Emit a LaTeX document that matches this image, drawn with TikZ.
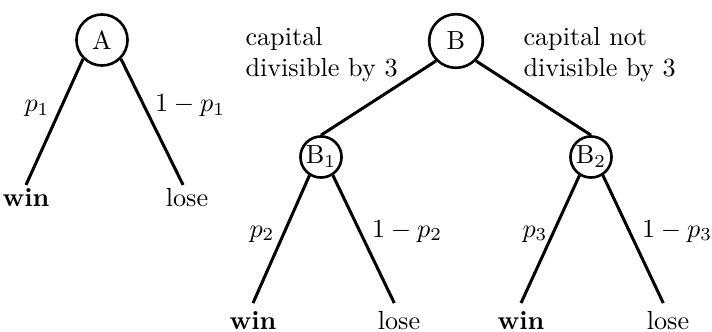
\documentclass[tikz,border=0pt]{standalone}
\begin{document}
\begin{tikzpicture}[x=0.382pt,y=-0.382pt,
  circ/.style={draw,circle,line width=1pt,inner sep=0pt},
  edge/.style={line width=1.15pt},
  leafA/.style={inner sep=0pt,outer sep=1.15pt,text height=6.9pt,text depth=0pt,anchor=base},
  leafB/.style={inner sep=0pt,outer sep=3pt,text height=6.9pt,text depth=0pt,anchor=base},
  lbl/.style={inner sep=0pt,anchor=base},
  txt/.style={inner sep=0pt,anchor=base west}]
\useasboundingbox (0,0) rectangle (712,332);
% decision nodes
\node[circ,minimum size=19.5pt] (A) at (102,40) {A};
\node[circ,minimum size=20.5pt] (B) at (456,41) {B};
\node[circ,minimum size=15.7pt] (B1) at (321,157) {B$_1$};
\node[circ,minimum size=15.7pt] (B2) at (591,157) {B$_2$};
% leaves
\node[leafA] (wA) at (26,206) {\textbf{win}};
\node[leafA] (lA) at (187,206) {lose};
\node[leafB] (w1) at (253,329) {\textbf{win}};
\node[leafB] (l1) at (399,329) {lose};
\node[leafB] (w2) at (521,329) {\textbf{win}};
\node[leafB] (l2) at (668,329) {lose};
% connectors
\draw[edge] (A.-135) -- (wA.north);
\draw[edge] (A.-45) -- ([xshift=-1.5pt]lA.north);
\draw[edge] (B.-135) -- (B1.north);
\draw[edge] (B.-45) -- (B2.north);
\draw[edge] (B1.-122) -- (w1.north);
\draw[edge] (B1.-57) -- ([xshift=-1.8pt]l1.north);
\draw[edge] (B2.-122) -- (w2.north);
\draw[edge] (B2.-57) -- ([xshift=-1.8pt]l2.north);
% probability labels
\node[lbl] (pa) at (37,112) {$p_1$};
\node[lbl] (qa) at (190,112) {$1-p_1$};
\node[lbl] (pb) at (262,237) {$p_2$};
\node[lbl] (qb) at (407,237) {$1-p_2$};
\node[lbl] (pc) at (535,237) {$p_3$};
\node[lbl] (qc) at (677,237) {$1-p_3$};
% branch texts
\node[txt] (c1a) at (245,46) {capital};
\node[txt] (c1b) at (245,77) {divisible by 3};
\node[txt] (c2a) at (523,46) {capital not};
\node[txt] (c2b) at (523,77) {divisible by 3};
\end{tikzpicture}
\end{document}
